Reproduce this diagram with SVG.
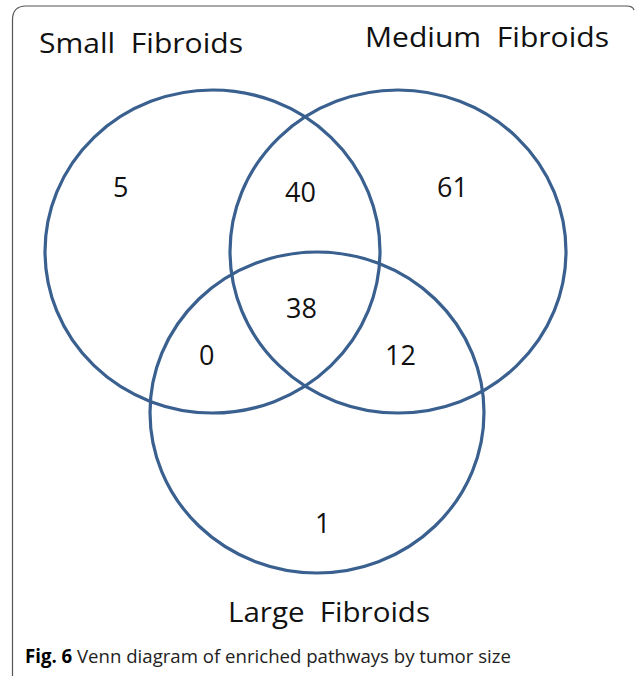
<svg xmlns="http://www.w3.org/2000/svg" width="635" height="676" viewBox="0 0 635 676">
<style>
.set{fill:none;stroke:#3A6090;stroke-width:3.2}
.lbl{font-family:"Open Sans","Noto Sans",sans-serif;font-size:28px;fill:#111;white-space:pre}
.num{font-family:"Open Sans","Noto Sans",sans-serif;font-size:27px;fill:#111}
.cap{font-family:"Open Sans","Liberation Sans",sans-serif;font-size:19px;fill:#222}
</style>
<rect x="0" y="0" width="635" height="676" fill="#fff"/>
<path d="M12.5,676 V20 Q12.5,6 26,6 H626 Q633,6 634,10" fill="none" stroke="#555" stroke-width="1.2"/>
<g id="small">
<ellipse class="set" cx="212.5" cy="251.5" rx="167.5" ry="161.5"/>
<text class="lbl" x="39" y="53" textLength="204" lengthAdjust="spacingAndGlyphs" xml:space="preserve">Small  Fibroids</text>
</g>
<g id="medium">
<ellipse class="set" cx="398" cy="251.5" rx="168" ry="161.5"/>
<text class="lbl" x="365" y="47" textLength="244" lengthAdjust="spacingAndGlyphs" xml:space="preserve">Medium  Fibroids</text>
</g>
<g id="large">
<ellipse class="set" cx="317" cy="412.5" rx="167" ry="160.5"/>
<text class="lbl" x="228" y="622" textLength="202" lengthAdjust="spacingAndGlyphs" xml:space="preserve">Large  Fibroids</text>
</g>
<g id="counts">
<text class="num" x="113" y="197">5</text>
<text class="num" x="285" y="202">40</text>
<text class="num" x="437" y="197">61</text>
<text class="num" x="286" y="318">38</text>
<text class="num" x="199" y="365">0</text>
<text class="num" x="385" y="365">12</text>
<text class="num" x="315" y="533">1</text>
</g>
<g id="connectors"></g>
<text class="cap" x="25" y="663" textLength="486" lengthAdjust="spacingAndGlyphs"><tspan font-weight="bold" fill="#000">Fig. 6</tspan> Venn diagram of enriched pathways by tumor size</text>
</svg>
